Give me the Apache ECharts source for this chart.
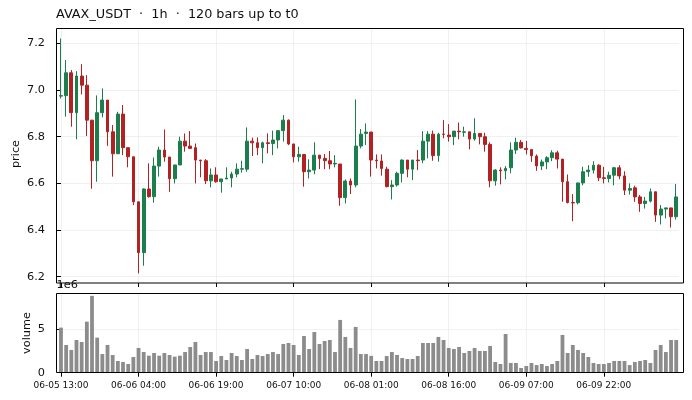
<!DOCTYPE html>
<html>
<head>
<meta charset="utf-8">
<script src="https://cdn.jsdelivr.net/npm/echarts@6/dist/echarts.min.js"></script>
<style>html,body{margin:0;padding:0;background:#fff;}#c{width:692px;height:400px;}</style>
</head>
<body>
<div id="c"></div>
<script>
const titleText = 'AVAX_USDT  \u00b7  1h  \u00b7  120 bars up to t0';
const tickIndex = [0, 15, 30, 45, 60, 75, 90, 105];
const tickLabels = ['06-05 13:00','06-06 04:00','06-06 19:00','06-07 10:00','06-08 01:00','06-08 16:00','06-09 07:00','06-09 22:00'];
const priceTicks = [6.2, 6.4, 6.6, 6.8, 7.0, 7.2];
const volumeTicks = [0, 5e6];

const open = [6.974,6.976,7.074,6.903,7.060,7.021,6.871,6.697,6.903,6.957,
6.821,6.727,6.897,6.753,6.714,6.521,6.303,6.576,6.543,6.674,
6.743,6.713,6.620,6.679,6.781,6.760,6.753,6.700,6.697,6.611,
6.636,6.607,6.619,6.623,6.640,6.661,6.661,6.781,6.774,6.753,
6.774,6.771,6.786,6.826,6.871,6.769,6.714,6.724,6.650,6.657,
6.721,6.707,6.697,6.683,6.683,6.539,6.610,6.593,6.760,6.814,
6.820,6.700,6.696,6.661,6.586,6.593,6.643,6.700,6.661,6.700,
6.700,6.781,6.811,6.719,6.811,6.807,6.800,6.824,6.819,6.821,
6.790,6.814,6.800,6.767,6.611,6.657,6.654,6.667,6.743,6.776,
6.750,6.745,6.717,6.675,6.692,6.710,6.731,6.704,6.607,6.518,
6.517,6.602,6.650,6.657,6.678,6.624,6.621,6.635,6.667,6.632,
6.571,6.581,6.542,6.514,6.524,6.564,6.464,6.490,6.495,6.457];
const close = [6.976,7.074,6.903,7.060,7.021,6.871,6.697,6.903,6.957,6.821,
6.727,6.897,6.753,6.714,6.521,6.303,6.576,6.543,6.674,6.743,
6.713,6.620,6.679,6.781,6.760,6.750,6.700,6.697,6.611,6.636,
6.607,6.619,6.623,6.640,6.661,6.663,6.781,6.774,6.753,6.774,
6.771,6.786,6.826,6.871,6.769,6.714,6.724,6.650,6.657,6.721,
6.707,6.697,6.683,6.686,6.539,6.610,6.593,6.760,6.811,6.820,
6.700,6.697,6.664,6.586,6.593,6.643,6.700,6.661,6.700,6.697,
6.781,6.811,6.719,6.811,6.810,6.800,6.824,6.821,6.821,6.790,
6.814,6.800,6.767,6.611,6.657,6.654,6.664,6.743,6.776,6.752,
6.745,6.718,6.675,6.692,6.710,6.731,6.704,6.607,6.518,6.516,
6.602,6.650,6.657,6.678,6.624,6.621,6.635,6.667,6.632,6.571,
6.578,6.542,6.514,6.524,6.564,6.464,6.490,6.495,6.457,6.542];
const low = [6.964,6.886,6.843,6.789,6.981,6.803,6.577,6.607,6.883,6.761,
6.629,6.727,6.721,6.669,6.507,6.214,6.247,6.539,6.517,6.629,
6.693,6.564,6.600,6.679,6.736,6.750,6.600,6.626,6.597,6.583,
6.603,6.560,6.619,6.583,6.626,6.646,6.650,6.717,6.721,6.686,
6.729,6.721,6.750,6.779,6.764,6.690,6.693,6.586,6.621,6.639,
6.661,6.661,6.661,6.669,6.504,6.514,6.554,6.583,6.750,6.764,
6.629,6.664,6.633,6.583,6.531,6.586,6.604,6.626,6.614,6.657,
6.686,6.707,6.697,6.693,6.793,6.779,6.764,6.789,6.800,6.746,
6.783,6.767,6.736,6.583,6.590,6.596,6.617,6.643,6.726,6.750,
6.724,6.692,6.654,6.657,6.661,6.695,6.664,6.521,6.514,6.438,
6.510,6.592,6.628,6.642,6.610,6.600,6.604,6.592,6.618,6.550,
6.552,6.521,6.478,6.492,6.518,6.435,6.424,6.450,6.411,6.445];
const high = [7.221,7.129,7.086,7.081,7.111,7.064,6.871,6.977,7.007,6.957,
6.850,6.907,6.936,6.753,6.714,6.521,6.579,6.686,6.711,6.757,
6.831,6.713,6.679,6.800,6.814,6.824,6.771,6.700,6.704,6.664,
6.669,6.619,6.669,6.650,6.686,6.697,6.840,6.796,6.797,6.779,
6.814,6.826,6.829,6.893,6.874,6.769,6.757,6.724,6.703,6.776,
6.721,6.726,6.739,6.721,6.683,6.617,6.621,6.960,6.833,6.857,
6.820,6.724,6.724,6.671,6.614,6.650,6.703,6.700,6.700,6.743,
6.824,6.824,6.826,6.817,6.871,6.854,6.824,6.861,6.843,6.821,
6.879,6.814,6.817,6.776,6.661,6.669,6.674,6.776,6.796,6.786,
6.782,6.745,6.724,6.702,6.717,6.742,6.740,6.704,6.638,6.554,
6.602,6.671,6.678,6.695,6.682,6.671,6.650,6.671,6.678,6.652,
6.600,6.590,6.550,6.542,6.578,6.564,6.507,6.495,6.495,6.597];
const volume = [5.19,3.19,2.62,3.77,3.54,5.88,8.85,4.04,2.15,3.19,
2.04,1.35,1.23,1.00,1.81,2.85,2.38,1.96,2.27,1.96,
2.27,2.04,1.85,1.96,2.38,2.96,3.54,2.04,2.38,2.38,
1.35,1.92,1.46,2.27,1.92,1.46,2.73,1.58,2.04,1.92,
2.15,2.38,2.15,3.31,3.42,3.19,2.04,4.23,2.73,4.69,
3.31,3.65,3.77,2.38,6.08,4.12,2.85,5.27,2.15,2.15,
1.94,1.35,1.35,1.92,2.38,2.04,1.69,1.58,1.58,1.92,
3.42,3.42,3.42,4.12,3.77,2.85,2.73,2.96,2.27,2.50,
2.85,2.50,2.50,3.08,1.23,1.00,4.46,1.12,1.12,0.54,
0.77,1.12,0.88,1.00,0.77,1.00,1.35,4.35,2.27,3.19,
2.62,2.27,1.81,1.12,1.00,1.00,1.12,1.35,1.35,1.35,
0.88,1.23,1.35,1.46,1.12,2.62,3.19,2.38,3.77,3.77];

// hourly category names starting 06-05 13:00
const categories = [];
for (let i = 0; i < open.length; i++) {
  const h = 13 + i;
  const d = 5 + Math.floor(h / 24);
  const hh = h % 24;
  categories.push('06-' + String(d).padStart(2, '0') + ' ' + String(hh).padStart(2, '0') + ':00');
}

const candleData = open.map((o, i) => [o, close[i], low[i], high[i]]);
const volData = volume.map(v => v * 1e6);

const GREEN = '#1b7f4d', RED = '#b22222';
const FONT = 'DejaVu Sans';
const N = open.length;
const gridL = 58.4, gridR = 692 - 678.8;
const gridLine = { show: true, lineStyle: { color: '#ececec', width: 0.8 } };

const chart = echarts.init(document.getElementById('c'), null, { renderer: 'canvas' });
chart.setOption({
  animation: false,
  backgroundColor: '#fff',
  grid: [
    { left: gridL, right: gridR, top: 28, height: 255 },
    { left: gridL, right: gridR, top: 293, height: 79.7 }
  ],
  xAxis: [
    { type: 'category', gridIndex: 0, data: categories, boundaryGap: true,
      axisLine: { show: false }, axisTick: { show: false }, axisLabel: { show: false }, splitLine: { show: false } },
    { type: 'category', gridIndex: 1, data: categories, boundaryGap: true,
      axisLine: { show: false }, axisTick: { show: false }, axisLabel: { show: false }, splitLine: { show: false } },
    { type: 'value', gridIndex: 0, position: 'bottom', min: -0.5, max: N - 0.5,
      axisLine: { show: false },
      axisTick: { show: true, length: 4, inside: false, customValues: tickIndex, lineStyle: { color: '#000', width: 1 } },
      axisLabel: { show: false },
      splitLine: gridLine },
    { type: 'value', gridIndex: 1, position: 'bottom', min: -0.5, max: N - 0.5,
      axisLine: { show: false },
      axisTick: { show: true, length: 4, inside: false, customValues: tickIndex, lineStyle: { color: '#000', width: 1 } },
      axisLabel: { show: true, customValues: tickIndex, margin: 8.5, fontFamily: FONT, fontSize: 9, color: '#111',
        formatter: v => tickLabels[tickIndex.indexOf(Math.round(v))] || '' },
      splitLine: gridLine }
  ],
  yAxis: [
    { type: 'value', gridIndex: 0, min: 6.173, max: 7.266, offset: 2.4, scale: true,
      axisLine: { show: false },
      axisTick: { show: true, length: 4, customValues: priceTicks, lineStyle: { color: '#000', width: 1 } },
      axisLabel: { show: true, customValues: priceTicks, margin: 11, fontFamily: FONT, fontSize: 11.3, color: '#111',
        formatter: v => v.toFixed(1) },
      splitLine: gridLine },
    { type: 'value', gridIndex: 1, min: 0, max: 9.18e6, offset: 2.4,
      axisLine: { show: false },
      axisTick: { show: true, length: 4, customValues: volumeTicks, lineStyle: { color: '#000', width: 1 } },
      axisLabel: { show: true, customValues: volumeTicks, margin: 11, fontFamily: FONT, fontSize: 11.3, color: '#111',
        formatter: v => String(Math.round(v / 1e6)) },
      splitLine: gridLine }
  ],
  series: [
    { type: 'candlestick', xAxisIndex: 0, yAxisIndex: 0, data: candleData, barWidth: 3.2,
      itemStyle: { color: GREEN, color0: RED, borderColor: GREEN, borderColor0: RED, borderColorDoji: GREEN, borderWidth: 1 } },
    { type: 'bar', xAxisIndex: 1, yAxisIndex: 1, data: volData, barWidth: 3.8,
      itemStyle: { color: '#8c8c8c' } }
  ],
  graphic: [
    { type: 'rect', z: 100, silent: true, shape: { x: 56.5, y: 28.5, width: 627, height: 254.5 },
      style: { fill: 'none', stroke: '#000', lineWidth: 1 } },
    { type: 'rect', z: 100, silent: true, shape: { x: 56.5, y: 293.5, width: 627, height: 79 },
      style: { fill: 'none', stroke: '#000', lineWidth: 1 } },
    { type: 'text', z: 100, x: 56, y: 15, style: { text: titleText, fontFamily: FONT, fontSize: 12.8, fill: '#111',
      textAlign: 'left', textVerticalAlign: 'middle' } },
    { type: 'text', z: 100, x: 16, y: 154, rotation: Math.PI / 2, style: { text: 'price', fontFamily: FONT, fontSize: 11.3, fill: '#111',
      textAlign: 'center', textVerticalAlign: 'middle' } },
    { type: 'text', z: 100, x: 27, y: 333, rotation: Math.PI / 2, style: { text: 'volume', fontFamily: FONT, fontSize: 11.3, fill: '#111',
      textAlign: 'center', textVerticalAlign: 'middle' } },
    { type: 'text', z: 100, x: 56.5, y: 285, style: { text: '1e6', fontFamily: FONT, fontSize: 11.3, fill: '#111',
      textAlign: 'left', textVerticalAlign: 'middle' } }
  ]
});
</script>
</body>
</html>
